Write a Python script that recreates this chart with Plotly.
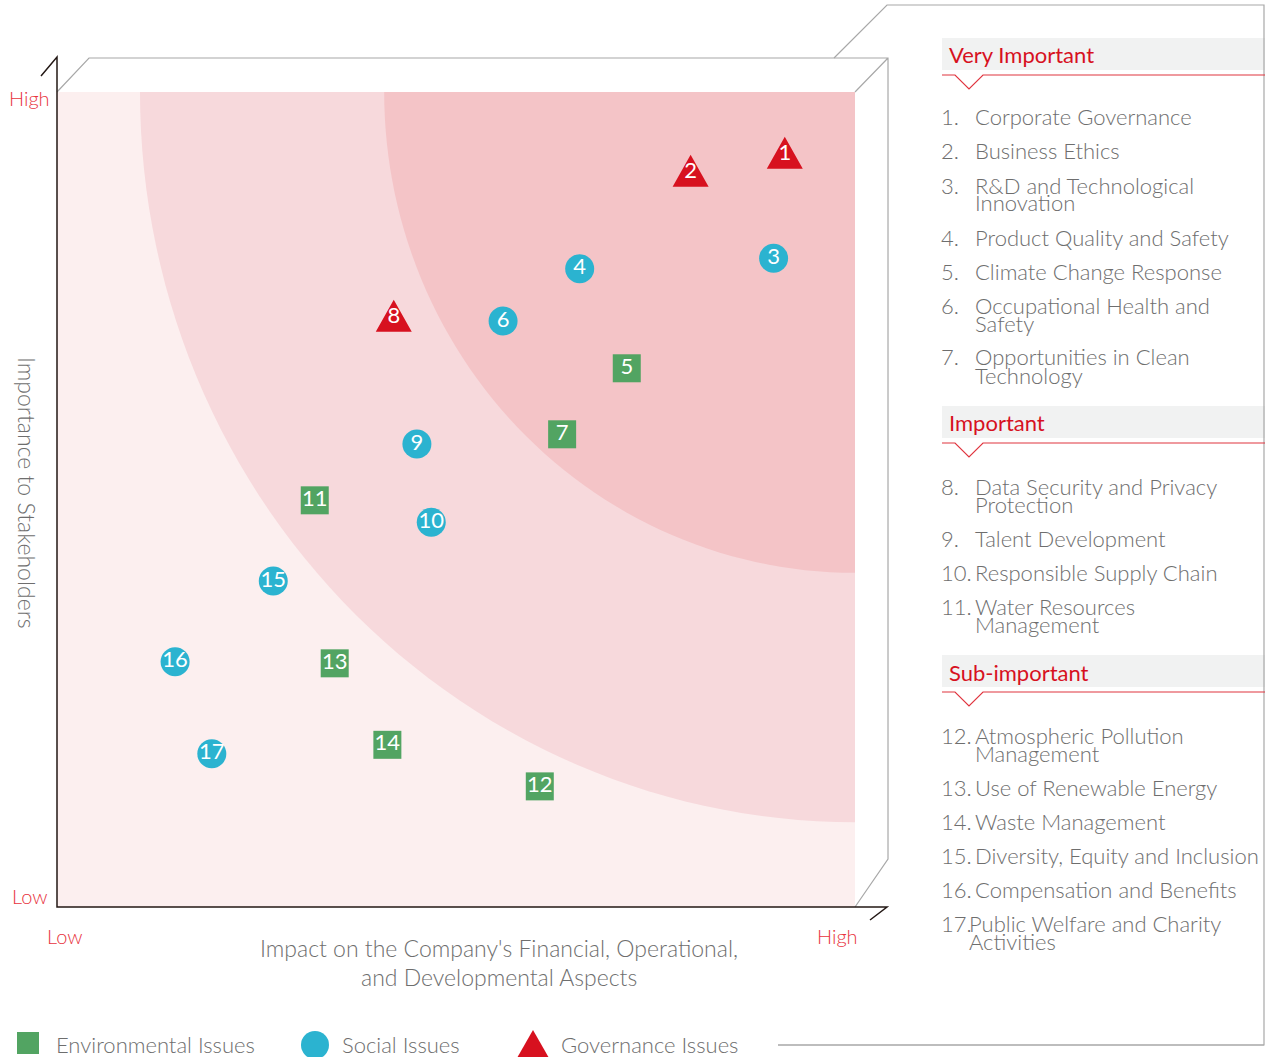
import numpy as np
import plotly.graph_objects as go

W, H = 1265, 1057

# ---------------- data ----------------
issue_ids = list(range(1, 18))
issue_category = ["G", "G", "S", "S", "E", "S", "E", "G", "S", "S",
                  "E", "E", "E", "E", "S", "S", "S"]
impact = [91.2, 79.4, 89.8, 65.5, 71.4, 55.9, 63.3, 42.2, 45.1, 46.9,
          32.3, 60.5, 34.8, 41.4, 27.1, 14.8, 19.4]
importance = [92.3, 90.1, 79.6, 78.3, 66.1, 71.9, 58.0, 72.3, 56.8, 47.2,
              49.9, 14.8, 29.9, 19.9, 40.0, 30.1, 18.8]

tier_names = ["Very Important", "Important", "Sub-important"]
tier_members = [[1, 2, 3, 4, 5, 6, 7], [8, 9, 10, 11], [12, 13, 14, 15, 16, 17]]
issue_lines = [
    ["Corporate Governance"],
    ["Business Ethics"],
    ["R&D and Technological", "Innovation"],
    ["Product Quality and Safety"],
    ["Climate Change Response"],
    ["Occupational Health and", "Safety"],
    ["Opportunities in Clean", "Technology"],
    ["Data Security and Privacy", "Protection"],
    ["Talent Development"],
    ["Responsible Supply Chain"],
    ["Water Resources", "Management"],
    ["Atmospheric Pollution", "Management"],
    ["Use of Renewable Energy"],
    ["Waste Management"],
    ["Diversity, Equity and Inclusion"],
    ["Compensation and Benefits"],
    ["Public Welfare and Charity", "Activities"],
]
category_names = {"E": "Environmental Issues", "S": "Social Issues", "G": "Governance Issues"}
band_radii = [89.6, 59.0]  # materiality bands measured from the high/high corner

# ---------------- style ----------------
GREEN = "#52A462"
BLUE = "#2BB3D0"
RED = "#D7111F"
LABEL_RED = "#E8333D"
GRAY_TXT = "#6E6E6E"
LINE_GRAY = "#A8A8A8"
DARK = "#231815"
FONT = "Lato"

X0, X1, Y0, Y1 = 57, 855, 92, 907  # plot area in pixels


def fx(x):
    return x / W


def fy(y):
    return 1 - y / H


def ppath(pts_list):
    s = ""
    for pts in pts_list:
        for i, (x, y) in enumerate(pts):
            s += ("M" if i == 0 else "L") + f"{fx(x):.5f},{fy(y):.5f} "
    return s


fig = go.Figure()

NUMFONT = dict(color="white", size=22, family=FONT, weight=400)

# ---- marks ----
idx = {c: [i for i, c2 in enumerate(issue_category) if c2 == c] for c in "ESG"}

fig.add_trace(go.Scatter(
    x=[impact[i] for i in idx["E"]], y=[importance[i] for i in idx["E"]],
    mode="markers+text", text=[str(issue_ids[i]) for i in idx["E"]],
    marker=dict(symbol="square", size=28, color=GREEN, line=dict(width=0)),
    textfont=NUMFONT, textposition="middle center", showlegend=False, hoverinfo="skip"))

fig.add_trace(go.Scatter(
    x=[impact[i] for i in idx["S"]], y=[importance[i] for i in idx["S"]],
    mode="markers+text", text=[str(issue_ids[i]) for i in idx["S"]],
    marker=dict(symbol="circle", size=29, color=BLUE, line=dict(width=0)),
    textfont=NUMFONT, textposition="middle center", showlegend=False, hoverinfo="skip"))

# triangles (governance) drawn as filled polygons around each data point
px_per_x = (X1 - X0) / 100.0
px_per_y = (Y1 - Y0) / 100.0
hw, base_d, apex_d = 18 / px_per_x, 14 / px_per_y, 18 / px_per_y
tx, ty = [], []
for i in idx["G"]:
    x, y = impact[i], importance[i]
    tx += [x - hw, x + hw, x, x - hw, None]
    ty += [y - base_d, y - base_d, y + apex_d, y - base_d, None]
fig.add_trace(go.Scatter(x=tx, y=ty, mode="lines", fill="toself", fillcolor=RED,
                         line=dict(width=0, color=RED), showlegend=False, hoverinfo="skip"))
fig.add_trace(go.Scatter(
    x=[impact[i] for i in idx["G"]], y=[importance[i] for i in idx["G"]],
    mode="text", text=[str(issue_ids[i]) for i in idx["G"]],
    textfont=NUMFONT, textposition="middle center", showlegend=False, hoverinfo="skip"))

# ---- background bands (quarter circles from high/high corner) ----
shapes = []
band_colors = ["#F7D9DC", "#F4C4C7"]
for r, col in zip(band_radii, band_colors):
    t = np.linspace(np.pi, 1.5 * np.pi, 60)
    xs = 100 + r * np.cos(t)
    ys = 100 + r * np.sin(t)
    path = "M100,100 " + " ".join(f"L{a:.3f},{b:.3f}" for a, b in zip(xs, ys)) + " Z"
    shapes.append(dict(type="path", xref="x", yref="y", path=path,
                       fillcolor=col, line=dict(width=0), layer="below"))

# ---- box outline ----
shapes.append(dict(type="path", xref="paper", yref="paper",
                   path=ppath([[(57, 92), (89, 58), (888, 58), (888, 859), (855, 907)],
                               [(855, 92), (888, 58)]]),
                   line=dict(color=LINE_GRAY, width=1.2), layer="above"))
shapes.append(dict(type="path", xref="paper", yref="paper",
                   path=ppath([[(41, 76), (57, 57), (57, 907), (887, 907), (870, 920)]]),
                   line=dict(color=DARK, width=1.5), layer="above"))
# outer panel frame
shapes.append(dict(type="path", xref="paper", yref="paper",
                   path=ppath([[(834, 58), (887, 5), (1264, 5), (1264, 1045), (778, 1045)]]),
                   line=dict(color=LINE_GRAY, width=1.2), layer="above"))

annotations = []


def ann(x, y, text, size, color, xanchor="left", textangle=0, weight=300):
    if xanchor == "left":
        x -= 2  # compensate annotation padding
    annotations.append(dict(x=fx(x), y=fy(y), xref="paper", yref="paper", text=text,
                            showarrow=False, xanchor=xanchor, yanchor="middle",
                            textangle=textangle,
                            font=dict(family=FONT, size=size, color=color, weight=weight)))


# ---- right panel ----
band_tops = [38, 406, 655]
item_start = [117, 486, 735]
for t, (name, members) in enumerate(zip(tier_names, tier_members)):
    bt = band_tops[t]
    shapes.append(dict(type="rect", xref="paper", yref="paper",
                       x0=fx(942), x1=fx(1265), y0=fy(bt + 32), y1=fy(bt),
                       fillcolor="#F1F2F2", line=dict(width=0), layer="below"))
    shapes.append(dict(type="path", xref="paper", yref="paper",
                       path=ppath([[(942, bt + 37), (955, bt + 37), (969, bt + 51),
                                    (983, bt + 37), (1265, bt + 37)]]),
                       line=dict(color="#E0353F", width=1.2), layer="above"))
    ann(949, bt + 17, name, 22, RED, weight=400)
    y = item_start[t]
    for m in members:
        lines = issue_lines[m - 1]
        ann(941, y, f"{m}.", 22, GRAY_TXT)
        tx0 = 969 if m == 17 else 975
        ann(tx0, y, lines[0], 22, GRAY_TXT)
        if len(lines) > 1:
            ann(tx0, y + 18, lines[1], 22, GRAY_TXT)
            y += 52
        else:
            y += 34

# ---- axis labels ----
ann(29, 98, "High", 20, LABEL_RED, xanchor="center")
ann(29, 896, "Low", 20, LABEL_RED, xanchor="center")
ann(64, 936, "Low", 20, LABEL_RED, xanchor="center")
ann(838, 936, "High", 20, LABEL_RED, xanchor="center")
ann(499, 948, "Impact on the Company's Financial, Operational,", 23, GRAY_TXT, xanchor="center")
ann(499, 977, "and Developmental Aspects", 23, GRAY_TXT, xanchor="center")
ann(27, 492, "Importance to Stakeholders", 23, GRAY_TXT, xanchor="center", textangle=90)

# ---- custom legend ----
shapes.append(dict(type="rect", xref="paper", yref="paper",
                   x0=fx(17), x1=fx(39), y0=fy(1054), y1=fy(1032),
                   fillcolor=GREEN, line=dict(width=0)))
shapes.append(dict(type="circle", xref="paper", yref="paper",
                   x0=fx(301), x1=fx(329), y0=fy(1059), y1=fy(1031),
                   fillcolor=BLUE, line=dict(width=0)))
shapes.append(dict(type="path", xref="paper", yref="paper",
                   path=ppath([[(517, 1058), (549, 1058), (533, 1030)]]) + "Z",
                   fillcolor=RED, line=dict(width=0)))
ann(56, 1044, category_names["E"], 22, GRAY_TXT)
ann(342, 1044, category_names["S"], 22, GRAY_TXT)
ann(561, 1044, category_names["G"], 22, GRAY_TXT)
shapes.append(dict(type="line", xref="paper", yref="paper",
                   x0=fx(778), x1=fx(1264), y0=fy(1045), y1=fy(1045),
                   line=dict(color=LINE_GRAY, width=1.2)))

# partially visible title at the very top
ann(362, -10, "Assessment Matrix of Material Issues for YOFC Tech in 2023", 24, "#F08A90",
    xanchor="center", weight=400)

fig.update_layout(
    width=W, height=H, margin=dict(l=0, r=0, t=0, b=0),
    paper_bgcolor="white", plot_bgcolor="#FCEFEF",
    xaxis=dict(domain=[X0 / W, X1 / W], range=[0, 100], visible=False, fixedrange=True),
    yaxis=dict(domain=[1 - Y1 / H, 1 - Y0 / H], range=[0, 100], visible=False, fixedrange=True),
    shapes=shapes, annotations=annotations, showlegend=False,
    font=dict(family=FONT),
)

fig.write_html("out.html", config={"displayModeBar": False},
               post_script="document.body.style.margin='0';document.body.style.overflow='hidden';")
